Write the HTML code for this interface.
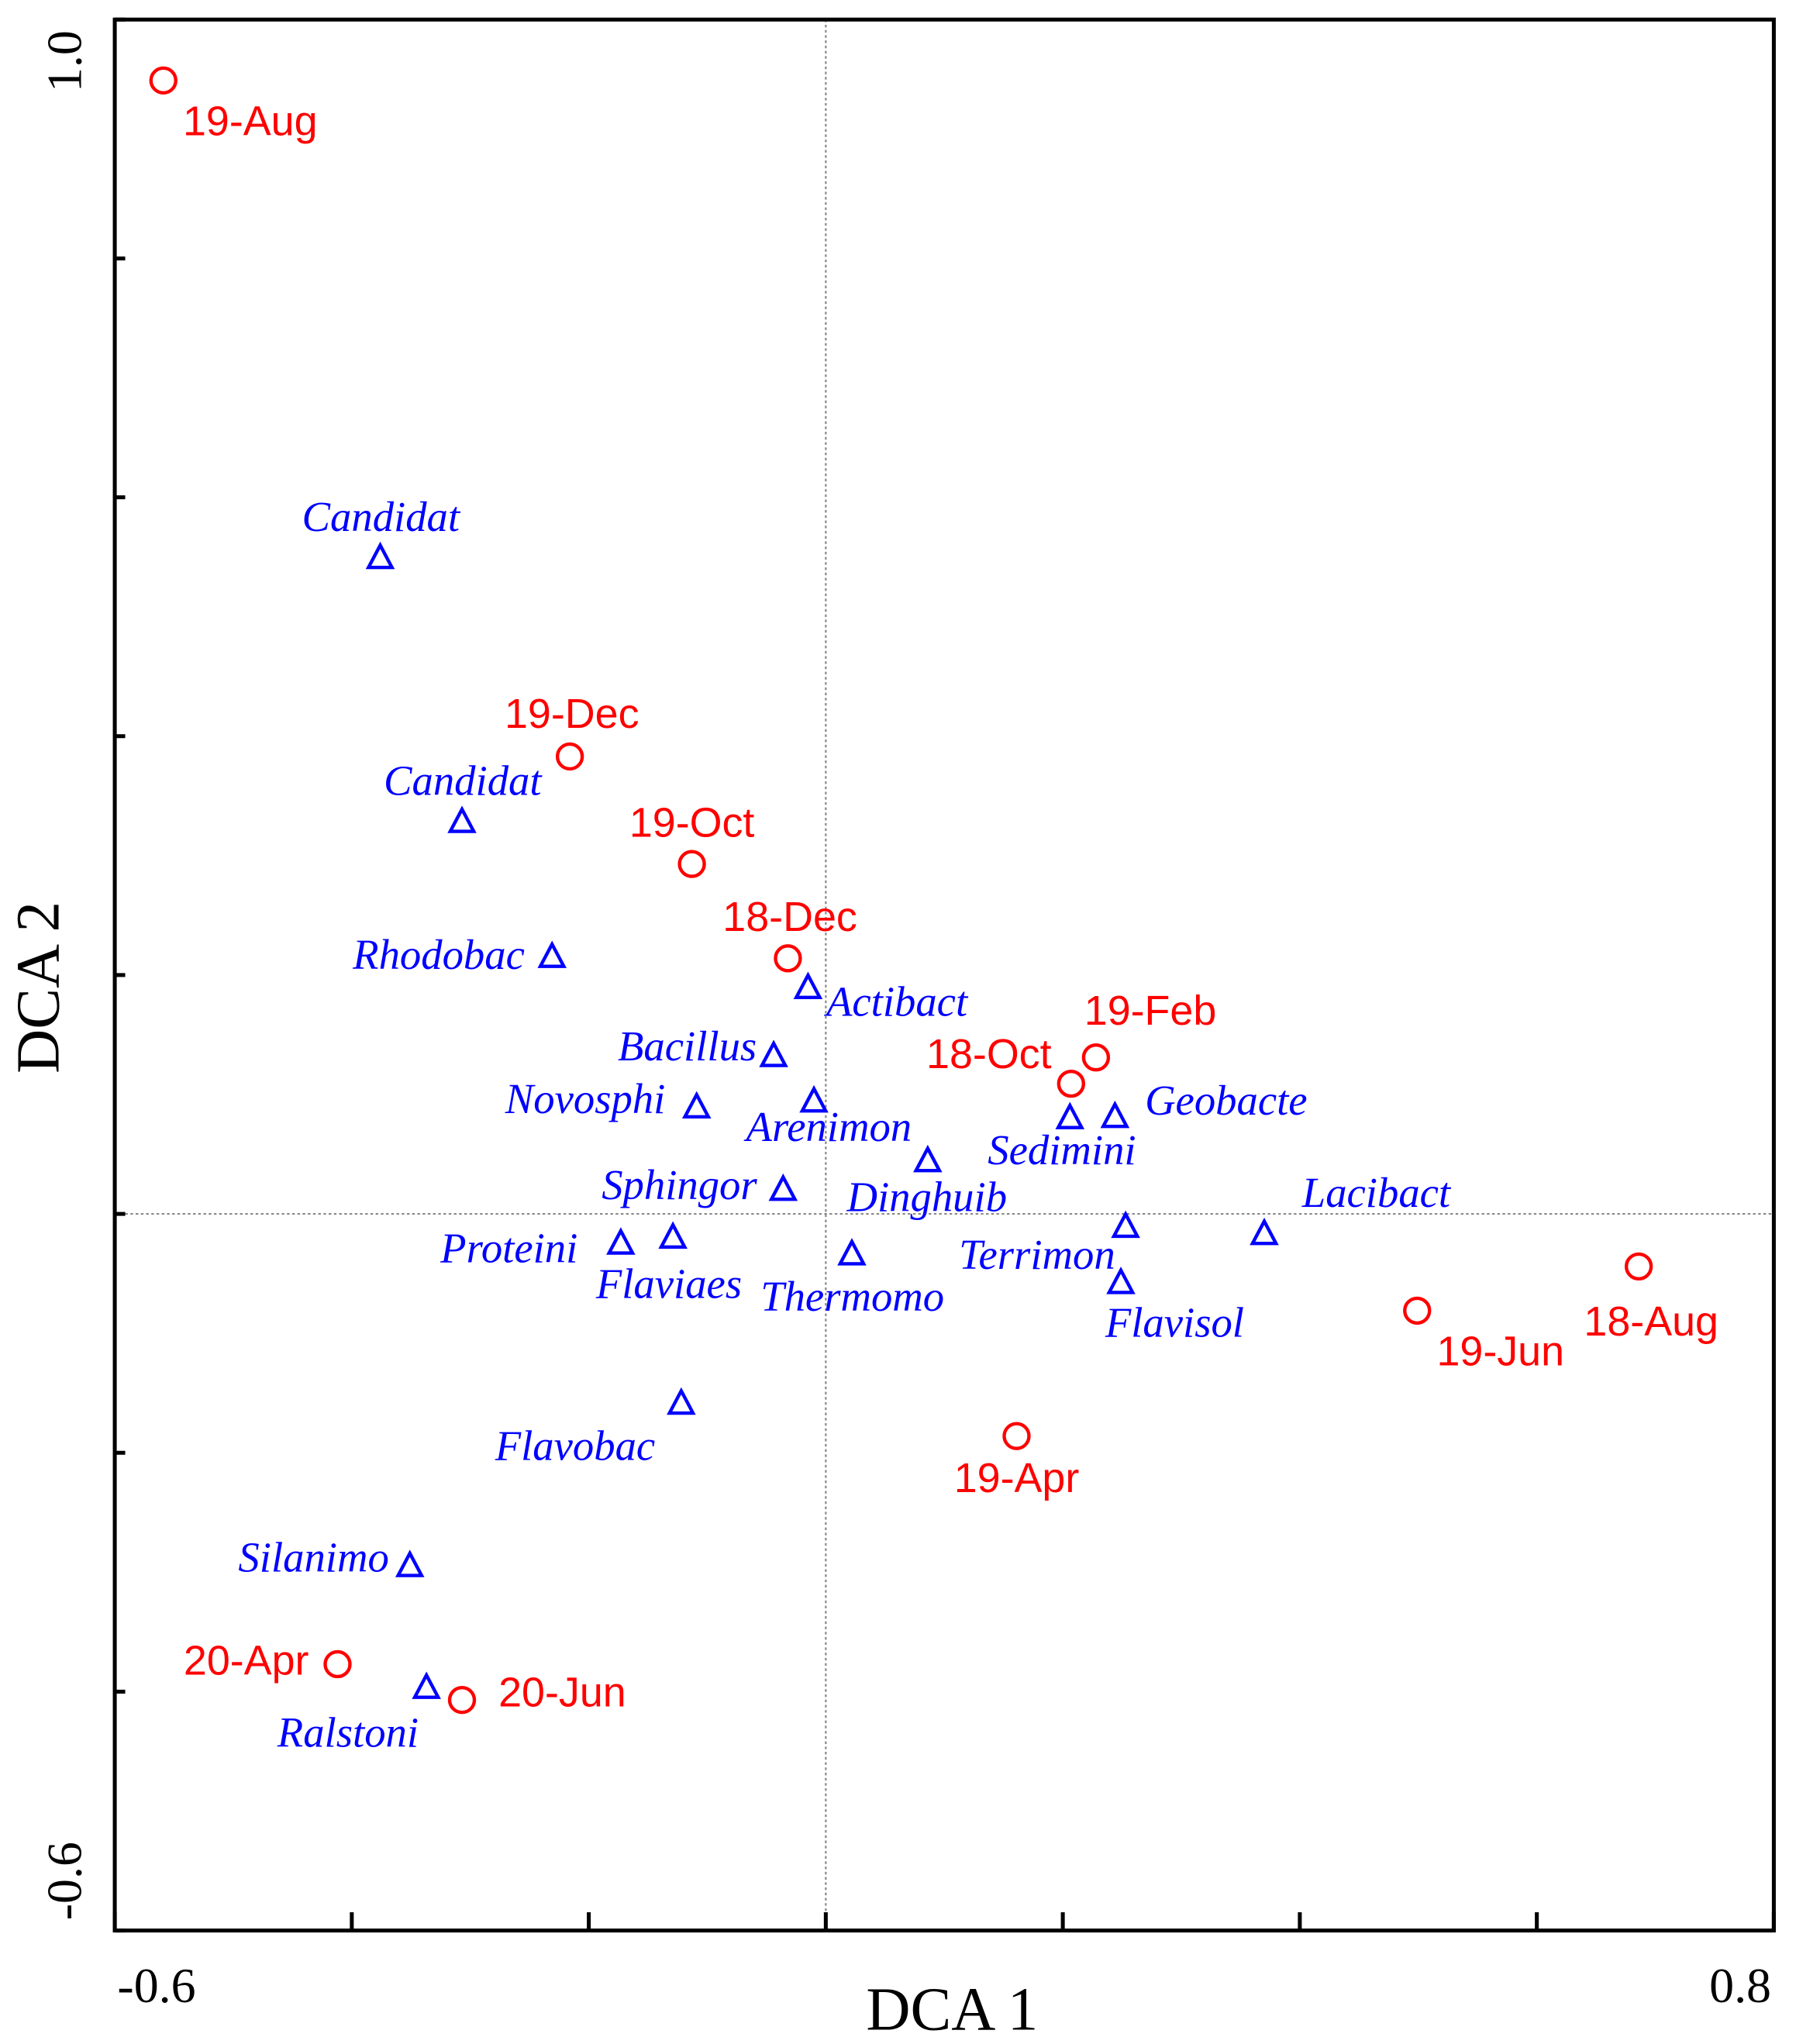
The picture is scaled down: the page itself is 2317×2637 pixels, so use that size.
<!DOCTYPE html>
<html><head><meta charset="utf-8"><style>
html,body{margin:0;padding:0;background:#fff;}
svg{display:block;}
</style></head><body>
<svg id="chart" width="2317" height="2637" viewBox="0 0 1377 1567" preserveAspectRatio="none" xmlns="http://www.w3.org/2000/svg">
<rect x="0" y="0" width="1377" height="1567" fill="#fff"/>
<g id="axes"></g>
<g id="marks"></g>
</svg>
<script>
// ---- data ----
const xTicks = [-0.6,-0.4,-0.2,0,0.2,0.4,0.6,0.8];
const yTicks = [-0.6,-0.4,-0.2,0,0.2,0.4,0.6,0.8,1.0];
const siteNames = ["19-Aug","19-Dec","19-Oct","18-Dec","19-Feb","18-Oct","18-Aug","19-Jun","19-Apr","20-Apr","20-Jun"];
const siteX = [-0.559,-0.216,-0.113,-0.032,0.228,0.207,0.686,0.499,0.161,-0.412,-0.307];
const siteY = [0.949,0.383,0.293,0.214,0.131,0.109,-0.044,-0.081,-0.186,-0.377,-0.407];
const speciesNames = ["Candidat","Candidat","Rhodobac","Actibact","Bacillus","Novosphi","Arenimon","Sedimini","Geobacte","Dinghuib","Sphingor","Proteini","Flaviaes","Thermomo","Terrimon","Lacibact","Flavisol","Flavobac","Silanimo","Ralstoni"];
const speciesX = [-0.376,-0.307,-0.231,-0.015,-0.044,-0.109,-0.010,0.206,0.244,0.086,-0.036,-0.173,-0.129,0.022,0.253,0.370,0.249,-0.122,-0.351,-0.337];
const speciesY = [0.550,0.329,0.216,0.190,0.133,0.090,0.095,0.081,0.082,0.045,0.021,-0.024,-0.019,-0.033,-0.010,-0.016,-0.057,-0.158,-0.294,-0.396];
// label layout (offsets from point, display px)
const siteLbl = [[15,42,"start"],[-50,-22,"start"],[-48,-21,"start"],[-50,-21,"start"],[-9,-25,"start"],[-15,-12,"end"],[-42,53,"start"],[15,42,"start"],[-48,43,"start"],[-22,8,"end"],[28,5,"start"]];
const spLbl = [[-60,-20,"start"],[-60,-20,"start"],[-21,10,"end"],[14,22,"start"],[-13,4,"end"],[-24,5,"end"],[-52,31,"start"],[-63,36,"start"],[23,-1,"start"],[-62,39,"start"],[-20,8,"end"],[-33,15,"end"],[-59,47,"start"],[-70,44,"start"],[-8,33,"end"],[29,-20,"start"],[-12,42,"start"],[-20,44,"end"],[-16,5,"end"],[-6,46,"end"]];

const L=88,R=1360,T=15,B=1480;
const sx = v => L + (v - (-0.6)) / 1.4 * (R - L);
const sy = v => B - (v - (-0.6)) / 1.6 * (B - T);
const NS="http://www.w3.org/2000/svg";
function mk(tag, attrs, parent, text){
  const e=document.createElementNS(NS,tag);
  for(const k in attrs) e.setAttribute(k,attrs[k]);
  if(text!==undefined) e.textContent=text;
  parent.appendChild(e); return e;
}
const ax=document.getElementById('axes'), mg=document.getElementById('marks');
let z1=mk('line',{x1:sx(0),x2:sx(0),y1:T,y2:B,stroke:'#888','stroke-width':1.3,'stroke-dasharray':'2,2'},ax);


let z2=mk('line',{x1:L,x2:R,y1:sy(0),y2:sy(0),stroke:'#888','stroke-width':1.3,'stroke-dasharray':'2,2'},ax);


let fr=mk('rect',{x:L,y:T,width:R-L,height:B-T,fill:'none',stroke:'#000','stroke-width':3},ax);


xTicks.forEach(v=>{
  const t=mk('line',{x1:sx(v),x2:sx(v),y1:B,y2:B-14,stroke:'#000','stroke-width':3},ax);
  
  
});
yTicks.forEach(v=>{
  const t=mk('line',{x1:L,x2:L+8,y1:sy(v),y2:sy(v),stroke:'#000','stroke-width':3},ax);
  
  
});
const serif='"Liberation Serif", serif';
let t1=mk('text',{x:sx(-0.6)+2,y:1535,'font-family':serif,'font-size':38,'text-anchor':'start'},ax,'-0.6');


let t2=mk('text',{x:sx(0.8)-2,y:1535,'font-family':serif,'font-size':38,'text-anchor':'end'},ax,'0.8');


let t3=mk('text',{x:0,y:0,'font-family':serif,'font-size':38,'text-anchor':'middle',transform:'translate(62,'+(sy(1.0)+32)+') rotate(-90)'},ax,'1.0');


let t4=mk('text',{x:0,y:0,'font-family':serif,'font-size':38,'text-anchor':'middle',transform:'translate(62,'+(sy(-0.6)-38)+') rotate(-90)'},ax,'-0.6');


let xt=mk('text',{x:730,y:1556,'font-family':serif,'font-size':47,'text-anchor':'middle'},ax,'DCA 1');


let yt=mk('text',{x:0,y:0,'font-family':serif,'font-size':47,'text-anchor':'middle',transform:'translate(45,757) rotate(-90)'},ax,'DCA 2');



siteNames.forEach((n,i)=>{
  const px=sx(siteX[i]), py=sy(siteY[i]);
  const c=mk('circle',{cx:px,cy:py,r:9.5,fill:'none',stroke:'#f00','stroke-width':2.6},mg);
  
  
  const o=siteLbl[i];
  const t=mk('text',{x:px+o[0],y:py+o[1],fill:'#f00','font-family':'"Liberation Sans", sans-serif','font-size':32,'text-anchor':o[2]},mg,n);
  
  
});
speciesNames.forEach((n,i)=>{
  const px=sx(speciesX[i]), py=sy(speciesY[i]);
  const p=mk('polygon',{points:(px-9)+','+(py+8)+' '+(px+9)+','+(py+8)+' '+px+','+(py-9),fill:'none',stroke:'#00f','stroke-width':2.6,'stroke-linejoin':'miter'},mg);
  
  
  const o=spLbl[i];
  const t=mk('text',{x:px+o[0],y:py+o[1],fill:'#00f','font-family':serif,'font-style':'italic','font-size':32.5,'text-anchor':o[2]},mg,n);
  
  
});
</script>
</body></html>
